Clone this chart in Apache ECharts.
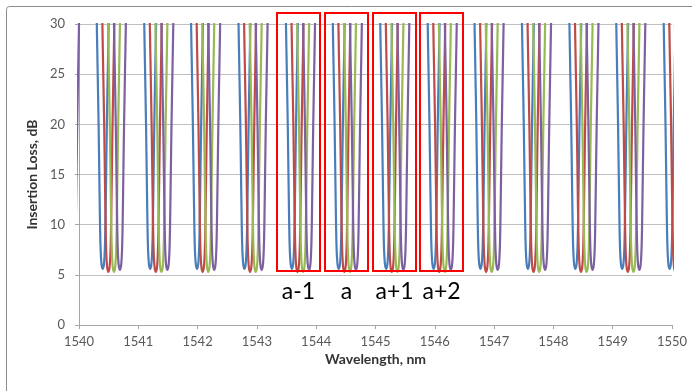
<!doctype html>
<html>

<head>
  <meta charset="utf-8">
  <title>Insertion Loss</title>
  <script src="https://cdn.jsdelivr.net/npm/echarts@6/dist/echarts.min.js"></script>
  <style>
    html,
    body {
      width: 100%;
      height: 100%;
      background-color: #ffffff;
      padding: 0;
      margin: 0;
    }

    #main {
      width: 692px;
      height: 391px;
    }
  </style>
</head>

<body>
  <div id="main"></div>
</body>

<script type="text/javascript">
  // channel grid (blue trace centre of each channel, nm)
  var channelCenters = [1539.61, 1540.40, 1541.20, 1541.99, 1542.79, 1543.59, 1544.38,
    1545.18, 1545.98, 1546.77, 1547.57, 1548.37, 1549.16, 1549.96];
  // the four traces, shifted from the blue one
  var traceNames = ['blue', 'red', 'green', 'purple'];
  var traceShift = [0, 0.095, 0.19, 0.29];
  var traceMin = [5.6, 5.3, 5.3, 5.5];
  var traceColors = ['#4a7ebb', '#be4b48', '#98b954', '#7d60a0'];
  // shape of one notch: offset from centre (nm) and loss above minimum (dB)
  var profileOffset = [-0.12, -0.1, -0.085, -0.07, -0.058, -0.047, -0.04, -0.03, -0.018, 0,
    0.018, 0.03, 0.04, 0.047, 0.058, 0.07, 0.085, 0.1, 0.12];
  var profileRise = [33, 24.5, 19.5, 14.5, 9.5, 5, 2.8, 1.2, 0.35, 0,
    0.35, 1.2, 2.8, 5, 9.5, 14.5, 19.5, 24.5, 33];
  var yTicks = [0, 5, 10, 15, 20, 25, 30];

  function traceData(t) {
    var pts = [];
    channelCenters.forEach(function (c) {
      for (var i = 0; i < profileOffset.length; i++) {
        pts.push([c + traceShift[t] + profileOffset[i], traceMin[t] + profileRise[i]]);
      }
    });
    return pts;
  }

  var series = traceNames.map(function (n, t) {
    return {
      name: n,
      type: 'line',
      data: traceData(t),
      showSymbol: false,
      symbol: 'none',
      smooth: 0.25,
      clip: true,
      lineStyle: { color: traceColors[t], width: 2.2 },
      animation: false
    };
  });

  // red boxes round four channels
  var boxes = [[277, 320], [325, 368], [373, 416], [420, 463]];
  var boxLabels = ['a-1', 'a', 'a+1', 'a+2'];
  var graphics = [{
    type: 'rect',
    shape: { x: 6.5, y: 6.5, width: 700, height: 400, r: 3 },
    style: { fill: 'none', stroke: '#8c8c8c', lineWidth: 1 },
    silent: true
  }];
  boxes.forEach(function (b, i) {
    graphics.push({
      type: 'rect',
      shape: { x: b[0], y: 13, width: b[1] - b[0], height: 258 },
      style: { fill: 'none', stroke: '#ff0000', lineWidth: 2 },
      z: 100
    });
    graphics.push({
      type: 'text',
      x: (b[0] + b[1]) / 2,
      y: 292,
      style: {
        text: boxLabels[i],
        fill: '#000',
        font: '23px Lato',
        align: 'center',
        verticalAlign: 'middle'
      },
      z: 100
    });
  });

  var option = {
    backgroundColor: '#fff',
    grid: { left: 79, right: 20, top: 24, bottom: 66 },
    xAxis: {
      type: 'value',
      min: 1540,
      max: 1550,
      interval: 1,
      name: 'Wavelength, nm',
      nameLocation: 'middle',
      nameGap: 23,
      nameTextStyle: { color: '#333', fontWeight: 'bold', fontSize: 14, fontFamily: 'Lato' },
      axisLine: { lineStyle: { color: '#a6a6a6' } },
      axisTick: { show: true, length: 4, lineStyle: { color: '#a6a6a6' } },
      axisLabel: {
        color: '#595959', fontSize: 13, fontFamily: 'Lato', margin: 10,
        formatter: function (v) { return String(v); }
      },
      splitLine: { show: false }
    },
    yAxis: {
      type: 'value',
      min: 0,
      max: 30,
      interval: 5,
      name: 'Insertion Loss, dB',
      nameLocation: 'middle',
      nameGap: 33,
      nameTextStyle: { color: '#333', fontWeight: 'bold', fontSize: 14, fontFamily: 'Lato' },
      axisLine: { show: true, lineStyle: { color: '#a6a6a6' } },
      axisTick: { show: true, length: 4, lineStyle: { color: '#a6a6a6' } },
      axisLabel: {
        color: '#595959', fontSize: 13, fontFamily: 'Lato', margin: 14,
        formatter: function (v) { return yTicks.indexOf(v) >= 0 ? String(v) : ''; }
      },
      splitLine: { lineStyle: { color: '#bfbfbf' } }
    },
    series: series,
    graphic: graphics
  };

  var myChart = echarts.init(document.getElementById('main'));
  myChart.setOption(option);
</script>

</html>
